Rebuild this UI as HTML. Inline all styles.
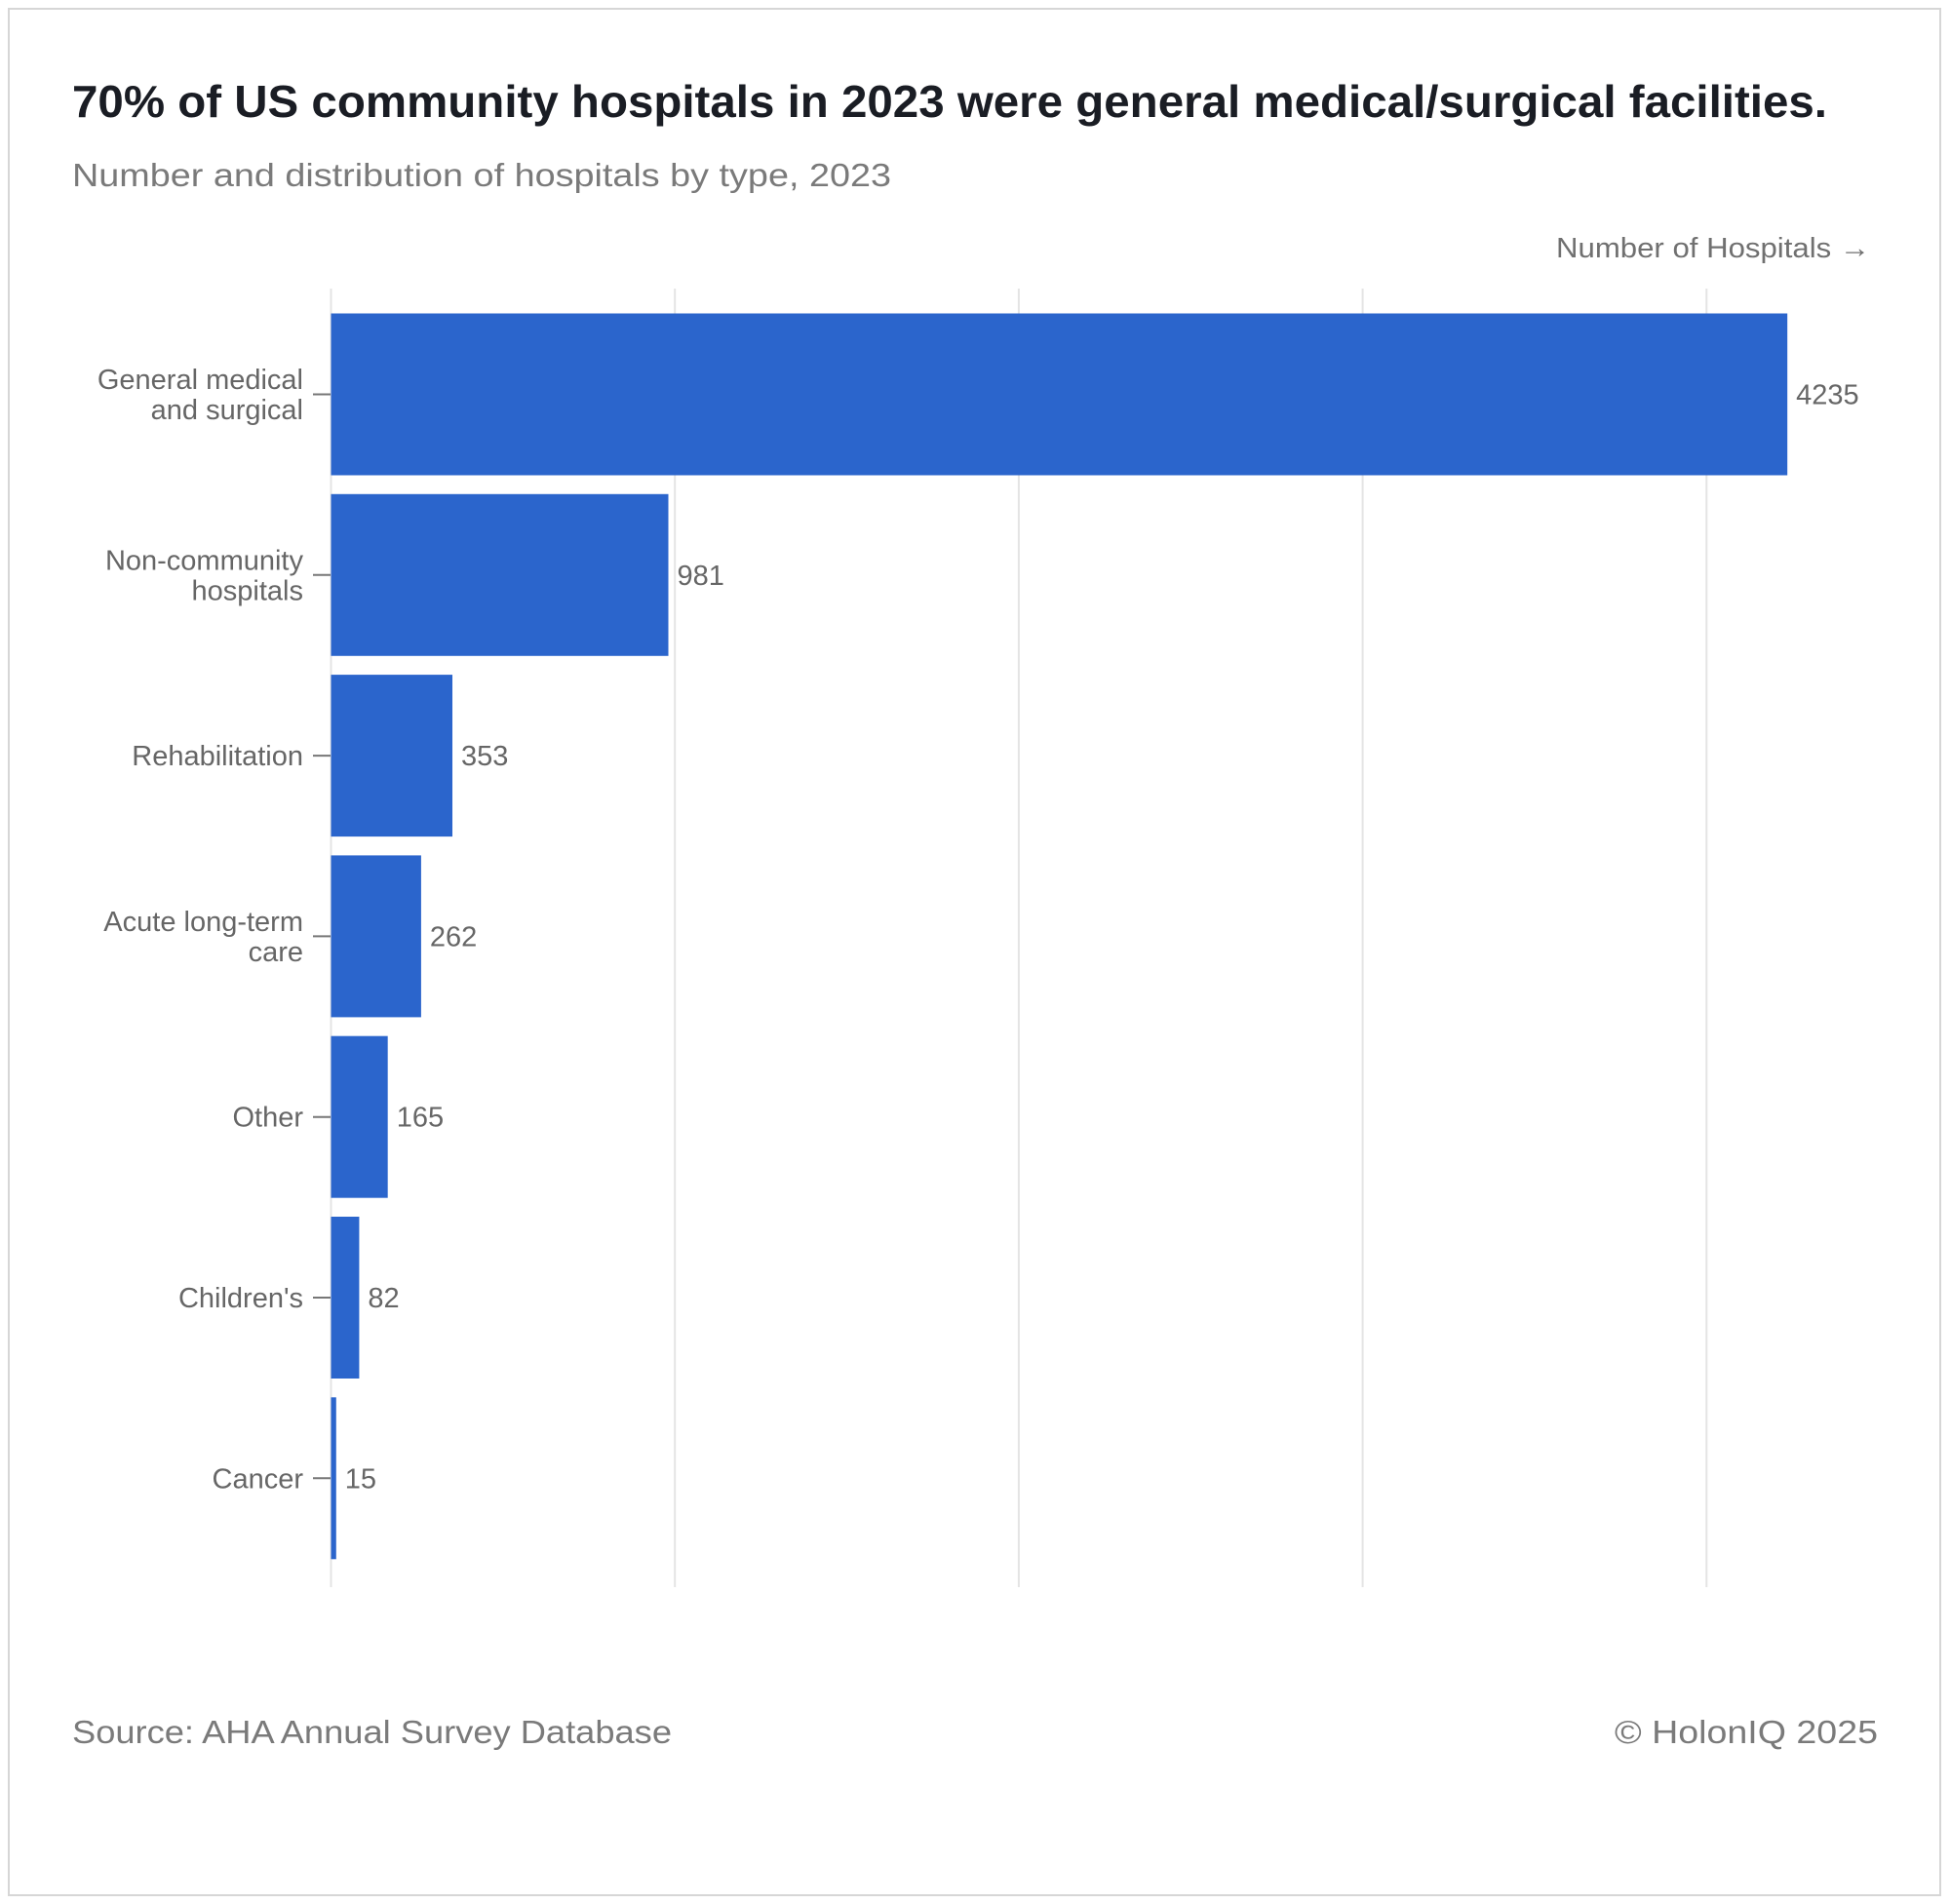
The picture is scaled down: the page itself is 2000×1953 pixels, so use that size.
<!DOCTYPE html>
<html><head><meta charset="utf-8"><style>
html,body{margin:0;padding:0;background:#fff;}
svg{display:block;font-family:"Liberation Sans",sans-serif;}
</style></head><body>
<svg id="chart" width="2000" height="1953" viewBox="0 0 2000 1953">
<rect x="9" y="9" width="1981" height="1935" fill="#fff" stroke="#d6d6d6" stroke-width="2"/>
<text x="74" y="120" font-size="46" font-weight="bold" fill="#1a1d24" textLength="1800" lengthAdjust="spacingAndGlyphs">70% of US community hospitals in 2023 were general medical/surgical facilities.</text>
<text x="74" y="191" font-size="33" fill="#7a7a7a" textLength="840" lengthAdjust="spacingAndGlyphs">Number and distribution of hospitals by type, 2023</text>
<text x="1918" y="264" font-size="29" fill="#707070" text-anchor="end" textLength="322" lengthAdjust="spacingAndGlyphs">Number of Hospitals →</text>
<g id="grid"></g>
<g id="bars"></g>
<text x="74" y="1788" font-size="33" fill="#7a7a7a" textLength="615" lengthAdjust="spacingAndGlyphs">Source: AHA Annual Survey Database</text>
<text x="1926" y="1788" font-size="33" fill="#7a7a7a" text-anchor="end" textLength="270" lengthAdjust="spacingAndGlyphs">© HolonIQ 2025</text>
</svg>
<script>
const categories = [["General medical","and surgical"],["Non-community","hospitals"],["Rehabilitation"],["Acute long-term","care"],["Other"],["Children's"],["Cancer"]];
const values = [4235, 981, 353, 262, 165, 82, 15];
const gridTicks = [0, 1000, 2000, 3000, 4000];

const NS = "http://www.w3.org/2000/svg";
const x0 = 339.5, perUnit = 352.7/1000;
const top0 = 321.5, pitch = 185.3, barH = 166;
const gridTop = 296, gridBottom = 1628;
const xScale = v => x0 + v*perUnit;
const yScale = i => top0 + i*pitch;
function mk(tag, attrs, parent){const e=document.createElementNS(NS,tag);for(const k in attrs)e.setAttribute(k,attrs[k]);parent.appendChild(e);return e;}
const grid = document.getElementById('grid'), bars = document.getElementById('bars');
gridTicks.forEach(t=>{
  const l = mk('line',{x1:xScale(t),x2:xScale(t),y1:gridTop,y2:gridBottom,stroke:'#e4e4e4','stroke-width':2},grid);
  
  
});
values.forEach((v,i)=>{
  const y = yScale(i), cy = y + barH/2;
  const r = mk('rect',{x:x0,y:y,width:Math.max(0,xScale(v)-x0),height:barH,fill:'#2b65cc'},bars);
  
  
  const tk = mk('line',{x1:321,x2:339,y1:cy,y2:cy,stroke:'#777','stroke-width':2},bars);
  
  
  const lines = categories[i];
  const lab = mk('text',{x:311,'font-size':29,fill:'#666','text-anchor':'end'},bars);
  
  
  lines.forEach((s,j)=>{
    const ts = mk('tspan',{x:311,y:cy+10+(j-(lines.length-1)/2)*31},lab);
    ts.textContent = s;
  });
  const vl = mk('text',{x:xScale(v)+9,y:cy+10,'font-size':29,fill:'#666'},bars);
  
  
  vl.textContent = v;
});
</script>
</body></html>
